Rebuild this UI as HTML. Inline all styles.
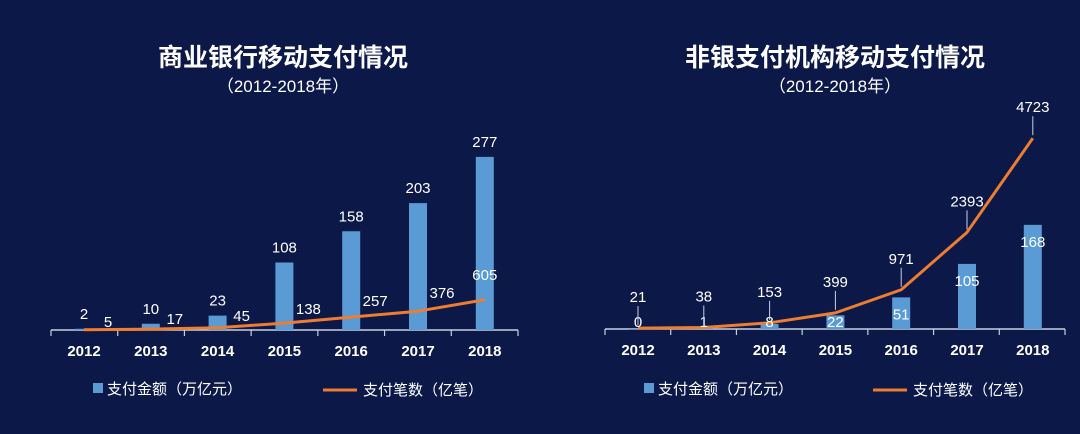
<!DOCTYPE html>
<html><head><meta charset="utf-8"><style>
html,body{margin:0;padding:0;background:#0b1848;}
svg{display:block;font-family:"Liberation Sans","Noto Sans CJK SC",sans-serif;}
</style></head><body>
<svg width="1080" height="434" viewBox="0 0 1080 434">
<rect width="1080" height="434" fill="#0b1848"/>
<text x="283" y="66" fill="#fff" font-size="25" font-weight="bold" text-anchor="middle">商业银行移动支付情况</text>
<text x="283" y="92" fill="#fff" font-size="17" text-anchor="middle">（2012-2018年）</text>
<text x="835" y="66" fill="#fff" font-size="25" font-weight="bold" text-anchor="middle">非银支付机构移动支付情况</text>
<text x="835" y="92" fill="#fff" font-size="17" text-anchor="middle">（2012-2018年）</text>
<g id="left"></g>
<g id="right"></g>
</svg>
<script>
const categories=["2012","2013","2014","2015","2016","2017","2018"];
const bankAmount=[2,10,23,108,158,203,277];
const bankCount=[5,17,45,138,257,376,605];
const nonBankAmount=[0,1,8,22,51,105,168];
const nonBankCount=[21,38,153,399,971,2393,4723];
const NS="http://www.w3.org/2000/svg";
function mk(p,t,a){const e=document.createElementNS(NS,t);for(const k in a)e.setAttribute(k,a[k]);p.appendChild(e);return e;}
function draw(g,cfg,amt,cnt){
  const x=i=>cfg.x0+i*cfg.step, yb=v=>cfg.base-v*cfg.bs, yl=v=>cfg.base-v*cfg.ls;
  let ax=mk(g,'line',{x1:cfg.ax0,x2:cfg.ax1,y1:cfg.base,y2:cfg.base,stroke:'#c8d0e0','stroke-width':1.5});
  
  for(let i=0;i<=categories.length;i++){const tx=cfg.ax0+i*(cfg.ax1-cfg.ax0)/categories.length;
    const t=mk(g,'line',{x1:tx,x2:tx,y1:cfg.base,y2:cfg.base+6,stroke:'#c8d0e0','stroke-width':1.2});
    }
  categories.forEach((c,i)=>{
    const t=mk(g,'text',{x:x(i),y:cfg.base+26,fill:'#fff','font-size':15,'font-weight':'bold','text-anchor':'middle'});t.textContent=c;
    
    const h=amt[i]*cfg.bs;
    const b=mk(g,'rect',{x:x(i)-9,y:yb(amt[i]),width:18,height:Math.max(h,0.5),fill:'#5b9bd5'});
    
  });
  let d='';categories.forEach((c,i)=>{d+=(i?'L':'M')+x(i)+' '+yl(cnt[i]);});
  const p=mk(g,'path',{d:d,fill:'none',stroke:'#ed7d31','stroke-width':3,'stroke-linejoin':'round'});
  
  categories.forEach((c,i)=>{
    let bx=x(i),by;
    if(cfg.inside){by=Math.min(yb(amt[i])+22,327);}else{by=yb(amt[i])-10;}
    const bt=mk(g,'text',{x:bx,y:by,fill:'#fff','font-size':15,'text-anchor':'middle'});bt.textContent=amt[i];
    
    let lx,ly;
    if(cfg.inside){lx=x(i);ly=yl(cnt[i])-26;
      const ld=mk(g,'line',{x1:lx,x2:lx,y1:ly+4,y2:yl(cnt[i])-3,stroke:'#c8d0e0','stroke-width':1});
      }
    else{lx=i==6?x(i):x(i)+24;ly=i==6?yl(cnt[i])-20:yl(cnt[i])-3-i*2;}
    const lt=mk(g,'text',{x:lx,y:ly,fill:'#fff','font-size':15,'text-anchor':'middle'});lt.textContent=cnt[i];
    
  });
  const lg=mk(g,'rect',{x:cfg.lg0,y:383,width:10,height:10,fill:'#5b9bd5'});
  
  const l1=mk(g,'text',{x:cfg.lg0+14,y:394,fill:'#fff','font-size':15});l1.textContent='支付金额（万亿元）';
  
  const ll=mk(g,'line',{x1:cfg.lg1,x2:cfg.lg1+34,y1:390,y2:390,stroke:'#ed7d31','stroke-width':3});
  
  const l2=mk(g,'text',{x:cfg.lg1+40,y:395,fill:'#fff','font-size':15});l2.textContent='支付笔数（亿笔）';
  
}
draw(document.getElementById('left'),{x0:84,step:66.8,base:330,bs:0.625,ls:0.05,ax0:51,ax1:518,lg0:93,lg1:323,inside:false},bankAmount,bankCount);
draw(document.getElementById('right'),{x0:638,step:65.8,base:329,bs:0.62,ls:0.0404,ax0:605,ax1:1065,lg0:644,lg1:873,inside:true},nonBankAmount,nonBankCount);
</script>
</body></html>
